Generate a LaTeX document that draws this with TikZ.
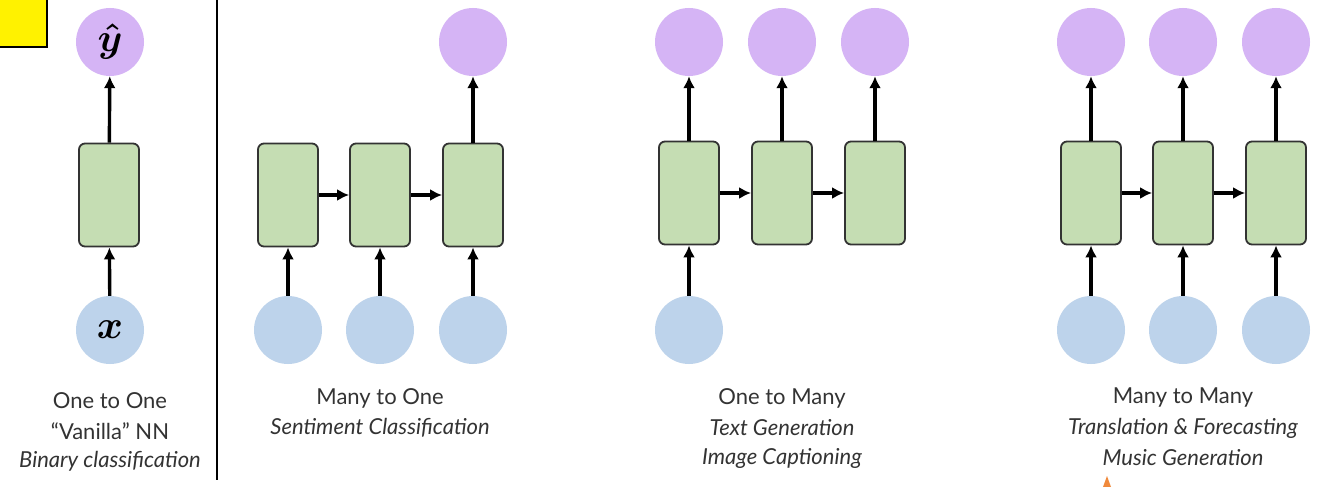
\documentclass[tikz,border=0pt]{standalone}
\usepackage{graphicx}
\usepackage{fontspec}
\setmainfont{Lato}
\usetikzlibrary{arrows.meta}
\definecolor{outc}{HTML}{D5B4F5}
\definecolor{inc}{HTML}{BDD3EB}
\definecolor{cellc}{HTML}{C5DDB3}
\definecolor{txtc}{HTML}{333333}
\definecolor{orng}{HTML}{F08A3C}
\begin{document}
\begin{tikzpicture}[x=1pt,y=-1pt,
  outnode/.style={circle,fill=outc,minimum size=68pt,inner sep=0pt},
  innode/.style={circle,fill=inc,minimum size=68pt,inner sep=0pt},
  cell/.style={draw=txtc,line width=1.8pt,fill=cellc,rounded corners=6pt,minimum width=60pt,minimum height=103pt,inner sep=0pt},
  conn/.style={line width=3.4pt,-{Latex[length=12pt,width=12pt]}},
  lbl/.style={text=txtc,font=\fontsize{22}{26}\selectfont,align=center},
  ilbl/.style={text=txtc,font=\fontsize{22}{26}\selectfont\itshape,align=center},
  mth/.style={font=\fontsize{24.88}{30}\selectfont\boldmath}]
\useasboundingbox (0,0) rectangle (1325,487);
\fill[white] (0,0) rectangle (1325,487);
% yellow marker
\draw[fill=yellow,line width=1.6pt] (-2,-2) rectangle (47,47);
% separator
\draw[line width=2.2pt] (217,0) -- (217,480);
% panel 1
\node[outnode,mth] (o1) at (110,42) {\scalebox{1.6}{$\hat{y}$}};
\node[cell] (c1) at (109,195) {};
\node[innode,mth] (i1) at (110,330) {\scalebox{1.6}{$x$}};
\draw[conn] (i1) -- (c1);
\draw[conn] (c1) -- (o1);
\node[lbl] (t1a) at (110,401) {One to One};
\node[lbl] (t1b) at (110,431) {“Vanilla” NN};
\node[ilbl] (t1c) at (110,461) {Binary classification};
% panel 2
\node[cell] (c2a) at (288,195) {};
\node[cell] (c2b) at (380,195) {};
\node[cell] (c2c) at (473,195) {};
\node[innode] (i2a) at (288,330) {};
\node[innode] (i2b) at (380,330) {};
\node[innode] (i2c) at (473,330) {};
\node[outnode] (o2c) at (473,42) {};
\draw[conn] (i2a) -- (c2a);
\draw[conn] (i2b) -- (c2b);
\draw[conn] (i2c) -- (c2c);
\draw[conn] (c2a) -- (c2b);
\draw[conn] (c2b) -- (c2c);
\draw[conn] (c2c) -- (o2c);
\node[lbl] (t2a) at (380,398) {Many to One};
\node[ilbl] (t2b) at (380,428) {Sentiment Classification};
% panel 3
\node[cell] (c3a) at (689,193) {};
\node[cell] (c3b) at (782,193) {};
\node[cell] (c3c) at (875,193) {};
\node[innode] (i3a) at (689,330) {};
\node[outnode] (o3a) at (689,42) {};
\node[outnode] (o3b) at (782,42) {};
\node[outnode] (o3c) at (875,42) {};
\draw[conn] (i3a) -- (c3a);
\draw[conn] (c3a) -- (c3b);
\draw[conn] (c3b) -- (c3c);
\draw[conn] (c3a) -- (o3a);
\draw[conn] (c3b) -- (o3b);
\draw[conn] (c3c) -- (o3c);
\node[lbl] (t3a) at (782,398) {One to Many};
\node[ilbl] (t3b) at (782,428) {Text Generation};
\node[ilbl] (t3c) at (782,458) {Image Captioning};
% panel 4
\node[cell] (c4a) at (1091,193) {};
\node[cell] (c4b) at (1183,193) {};
\node[cell] (c4c) at (1276,193) {};
\node[innode] (i4a) at (1091,330) {};
\node[innode] (i4b) at (1183,330) {};
\node[innode] (i4c) at (1276,330) {};
\node[outnode] (o4a) at (1091,42) {};
\node[outnode] (o4b) at (1183,42) {};
\node[outnode] (o4c) at (1276,42) {};
\draw[conn] (i4a) -- (c4a);
\draw[conn] (i4b) -- (c4b);
\draw[conn] (i4c) -- (c4c);
\draw[conn] (c4a) -- (c4b);
\draw[conn] (c4b) -- (c4c);
\draw[conn] (c4a) -- (o4a);
\draw[conn] (c4b) -- (o4b);
\draw[conn] (c4c) -- (o4c);
\node[lbl] (t4a) at (1183,398) {Many to Many};
\node[ilbl] (t4b) at (1183,428) {Translation \& Forecasting};
\node[ilbl] (t4c) at (1183,458) {Music Generation};
% small orange mark
\fill[orng] (1103,487) -- (1107,476) -- (1111,487) -- cycle;
\end{tikzpicture}
\end{document}
